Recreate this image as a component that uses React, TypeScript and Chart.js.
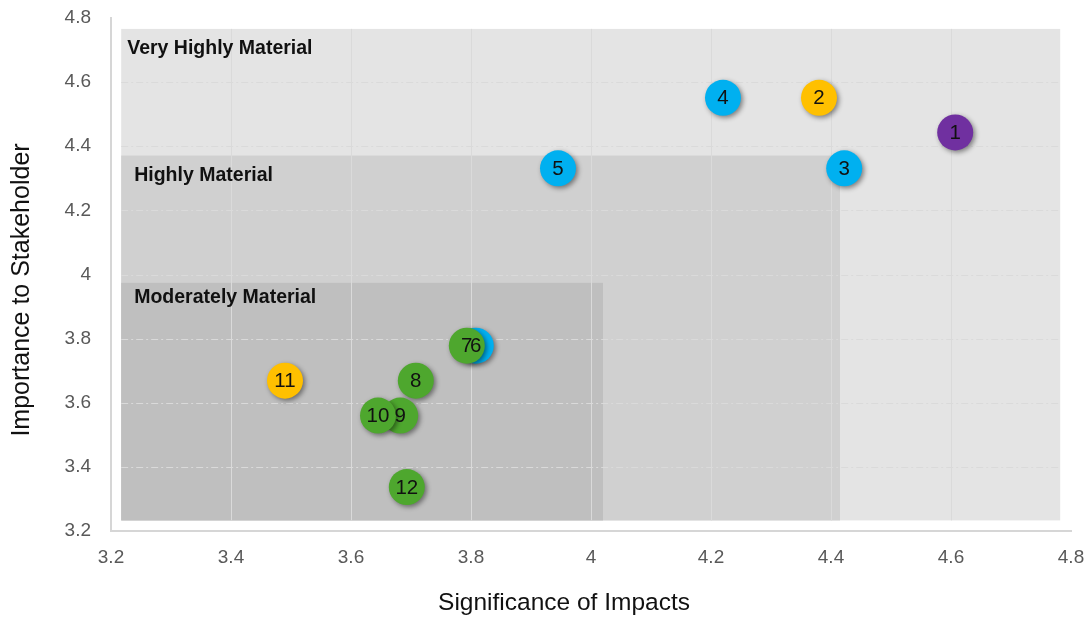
import React, { useEffect, useRef } from 'react';
import { Chart, registerables } from 'chart.js';

Chart.register(...registerables);

// ---- Data ----
const pointLabels = ['1', '2', '3', '4', '5', '6', '7', '8', '9', '10', '11', '12'];
const significance = [4.607, 4.38, 4.422, 4.22, 3.945, 3.808, 3.793, 3.708, 3.682, 3.645, 3.49, 3.693];
const importance = [4.443, 4.551, 4.331, 4.551, 4.331, 3.778, 3.778, 3.669, 3.56, 3.56, 3.669, 3.337];
const pointColors = [
  '#7030a0', '#ffc000', '#00b0f0', '#00b0f0', '#00b0f0', '#00b0f0',
  '#4ea72e', '#4ea72e', '#4ea72e', '#4ea72e', '#ffc000', '#4ea72e',
];

const regionNames = ['Very Highly Material', 'Highly Material', 'Moderately Material'];
const regionXMin = 3.217;
const regionYMin = 3.233;
const regionXMax = [4.782, 4.415, 4.02];
const regionYMax = [4.766, 4.371, 3.974];
const regionColors = ['#e4e4e4', '#d0d0d0', '#bfbfbf'];
const regionLabelOffsets = [[6, 20], [13, 20], [13, 15]];

const axisMin = 3.2;
const axisMax = 4.8;
const axisStep = 0.2;
const xTitle = 'Significance of Impacts';
const yTitle = 'Importance to Stakeholder';

const FONT = "'Liberation Sans', Arial, sans-serif";

const backgroundPlugin = {
  id: 'regionBackground',
  beforeDraw(chart: any) {
    const { ctx, scales } = chart;
    const x = scales.x;
    const y = scales.y;
    ctx.save();
    regionNames.forEach((_, i) => {
      const l = x.getPixelForValue(regionXMin);
      const r = x.getPixelForValue(regionXMax[i]);
      const t = y.getPixelForValue(regionYMax[i]);
      const b = y.getPixelForValue(regionYMin);
      ctx.fillStyle = regionColors[i];
      ctx.fillRect(l, t, r - l, b - t);
    });
    const L = x.getPixelForValue(regionXMin);
    const R = x.getPixelForValue(regionXMax[0]);
    const T = y.getPixelForValue(regionYMax[0]);
    const B = y.getPixelForValue(regionYMin);
    ctx.strokeStyle = '#dadada';
    ctx.lineWidth = 1;
    x.ticks.forEach((tk: any) => {
      const px = Math.round(x.getPixelForValue(tk.value)) + 0.5;
      if (px > L && px < R) {
        ctx.beginPath();
        ctx.moveTo(px, T);
        ctx.lineTo(px, B);
        ctx.stroke();
      }
    });
    ctx.setLineDash([7, 3, 2, 3]);
    y.ticks.forEach((tk: any) => {
      const py = Math.round(y.getPixelForValue(tk.value)) + 0.5;
      if (py > T && py < B) {
        ctx.beginPath();
        ctx.moveTo(L, py);
        ctx.lineTo(R, py);
        ctx.stroke();
      }
    });
    ctx.restore();
  },
  beforeDatasetsDraw(chart: any) {
    const { ctx, scales } = chart;
    const x = scales.x;
    const y = scales.y;
    ctx.save();
    ctx.font = `bold 19.5px ${FONT}`;
    ctx.fillStyle = '#111111';
    ctx.textBaseline = 'middle';
    ctx.textAlign = 'left';
    regionNames.forEach((name, i) => {
      const l = x.getPixelForValue(regionXMin);
      const t = y.getPixelForValue(regionYMax[i]);
      ctx.fillText(name, l + regionLabelOffsets[i][0], t + regionLabelOffsets[i][1]);
    });
    ctx.restore();
  },
  afterDraw(chart: any) {
    const ctx = chart.ctx;
    ctx.save();
    ctx.fillStyle = '#111111';
    ctx.textAlign = 'center';
    ctx.textBaseline = 'middle';
    ctx.font = `24.5px ${FONT}`;
    ctx.fillText(xTitle, 564, 603);
    ctx.font = `25px ${FONT}`;
    ctx.translate(22, 290);
    ctx.rotate(-Math.PI / 2);
    ctx.fillText(yTitle, 0, 0);
    ctx.restore();
  },
};

const shadowPlugin = {
  id: 'pointShadow',
  beforeDatasetDraw(chart: any) {
    const ctx = chart.ctx;
    ctx.save();
    ctx.shadowColor = 'rgba(0,0,0,0.45)';
    ctx.shadowBlur = 5;
    ctx.shadowOffsetX = 2;
    ctx.shadowOffsetY = 2;
  },
  afterDatasetDraw(chart: any) {
    chart.ctx.restore();
  },
  afterDatasetsDraw(chart: any) {
    const ctx = chart.ctx;
    const meta = chart.getDatasetMeta(0);
    ctx.save();
    ctx.font = `20.5px ${FONT}`;
    ctx.fillStyle = '#111111';
    ctx.textAlign = 'center';
    ctx.textBaseline = 'middle';
    meta.data.forEach((el: any, i: number) => {
      ctx.fillText(pointLabels[i], el.x, el.y + 1);
    });
    ctx.restore();
  },
};

const fmt = (v: any) => String(Number(Number(v).toFixed(1)));

export default function App() {
  const canvasRef = useRef<HTMLCanvasElement | null>(null);

  useEffect(() => {
    document.body.style.margin = '0';
    const canvas = canvasRef.current;
    if (!canvas) return;
    const chart = new Chart(canvas, {
      type: 'scatter',
      data: {
        datasets: [
          {
            label: 'Topics',
            data: significance.map((s, i) => ({ x: s, y: importance[i] })),
            pointBackgroundColor: pointColors,
            pointBorderWidth: 0,
            pointBorderColor: 'rgba(0,0,0,0)',
            pointRadius: 18,
            pointHoverRadius: 18,
          },
        ],
      },
      plugins: [backgroundPlugin, shadowPlugin],
      options: {
        responsive: false,
        animation: false,
        layout: { padding: { top: 16, right: 19, left: 0, bottom: 0 } },
        plugins: {
          legend: { display: false },
          tooltip: { enabled: false },
        },
        scales: {
          x: {
            type: 'linear',
            min: axisMin,
            max: axisMax,
            afterFit: (s: any) => {
              s.height = 91;
              s.paddingLeft = 0;
              s.paddingRight = 0;
            },
            ticks: {
              stepSize: axisStep,
              padding: 15,
              color: '#595959',
              font: { family: FONT, size: 19 },
              callback: fmt,
            },
            grid: { display: false, drawTicks: false },
            border: { display: true, color: '#d6d6d6', width: 2 },
            title: { display: false },
          },
          y: {
            type: 'linear',
            min: axisMin,
            max: axisMax,
            afterFit: (s: any) => {
              s.width = 111;
              s.paddingTop = 0;
              s.paddingBottom = 0;
            },
            ticks: {
              stepSize: axisStep,
              padding: 20,
              color: '#595959',
              font: { family: FONT, size: 19 },
              callback: fmt,
            },
            grid: { display: false, drawTicks: false },
            border: { display: true, color: '#d6d6d6', width: 2 },
            title: { display: false },
          },
        },
      },
    });
    return () => chart.destroy();
  }, []);

  return (
    <div style={{ width: 1090, height: 622 }}>
      <canvas ref={canvasRef} width={1090} height={622} style={{ width: 1090, height: 622 }} />
    </div>
  );
}
